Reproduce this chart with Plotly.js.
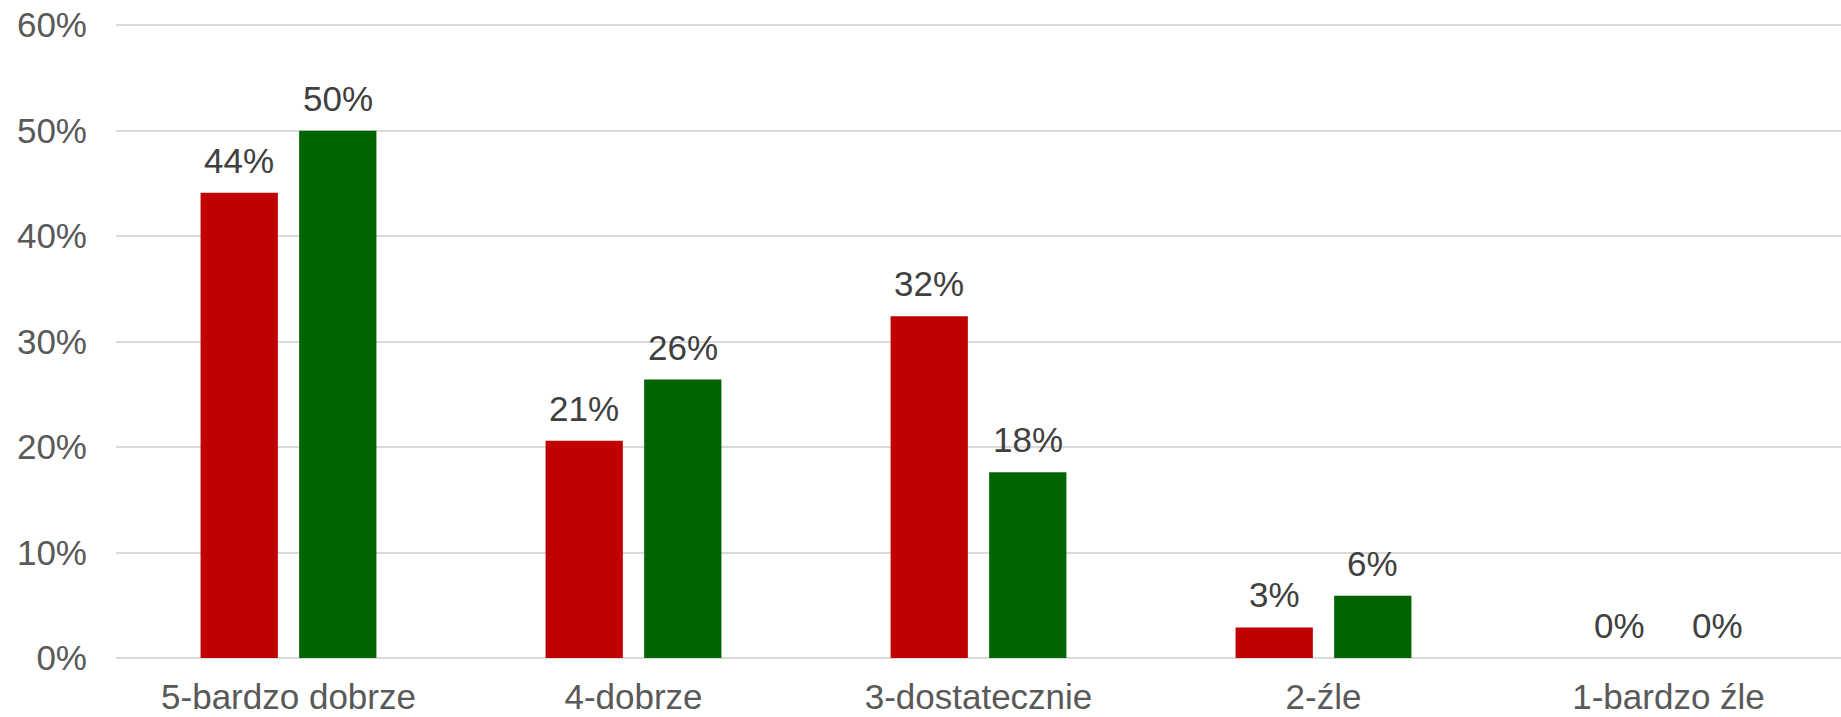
<!DOCTYPE html>
<html>
<head>
<meta charset="utf-8">
<script src="https://cdn.plot.ly/plotly-3.0.1.min.js"></script>
<style>
  html, body { margin: 0; padding: 0; background: #ffffff; }
  #chart { width: 1841px; height: 717px; }
</style>
</head>
<body>
<div id="chart"></div>
<script>
// ---- data ----
const categories = ["5-bardzo dobrze", "4-dobrze", "3-dostatecznie", "2-źle", "1-bardzo źle"];
const seriesRed = [44.1, 20.6, 32.4, 2.9, 0];
const seriesGreen = [50.0, 26.4, 17.6, 5.9, 0];
const yTickValues = [0, 10, 20, 30, 40, 50, 60];

// ---- style ----
const FONT = "Liberation Sans, Arial, Helvetica, sans-serif";
const BARGAP = 0.4286;
const BARGROUPGAP = 0.216;
const RED = "#C00000";
const GREEN = "#006400";

const traces = [
  { type: "bar", x: categories, y: seriesRed, marker: { color: RED }, hoverinfo: "none", showlegend: false },
  { type: "bar", x: categories, y: seriesGreen, marker: { color: GREEN }, hoverinfo: "none", showlegend: false }
];

// label positions from the grouped bar geometry (category units)
const slot = (1 - BARGAP) / 2;
const offsets = [-slot / 2, slot / 2];
const annotations = [];
[seriesRed, seriesGreen].forEach((vals, s) => {
  vals.forEach((v, i) => {
    annotations.push({
      x: i + offsets[s], y: v, xref: "x", yref: "y",
      text: Math.round(v) + "%",
      showarrow: false, yanchor: "bottom", xanchor: "center",
      yshift: 11,
      font: { family: FONT, size: 35, color: "#404040" }
    });
  });
});

const layout = {
  width: 1841, height: 717,
  margin: { l: 116, r: 0, t: 22, b: 59, pad: 0 },
  paper_bgcolor: "#ffffff", plot_bgcolor: "#ffffff",
  barmode: "group", bargap: BARGAP, bargroupgap: BARGROUPGAP,
  font: { family: FONT, size: 35, color: "#595959" },
  xaxis: {
    type: "category", categoryorder: "array", categoryarray: categories,
    showgrid: false, zeroline: false, showline: false, ticks: "",
    tickfont: { family: FONT, size: 35, color: "#595959" },
    ticklabelstandoff: 15
  },
  yaxis: {
    range: [0, 60.3], tickvals: yTickValues, ticktext: yTickValues.map(v => v + "%"),
    showgrid: true, gridcolor: "#dadada", gridwidth: 2,
    zeroline: true, zerolinecolor: "#dadada", zerolinewidth: 2,
    showline: false, ticks: "",
    tickfont: { family: FONT, size: 35, color: "#595959" },
    ticklabelstandoff: 28
  },
  annotations: annotations
};

Plotly.newPlot("chart", traces, layout, { displayModeBar: false, staticPlot: true });
</script>
</body>
</html>
